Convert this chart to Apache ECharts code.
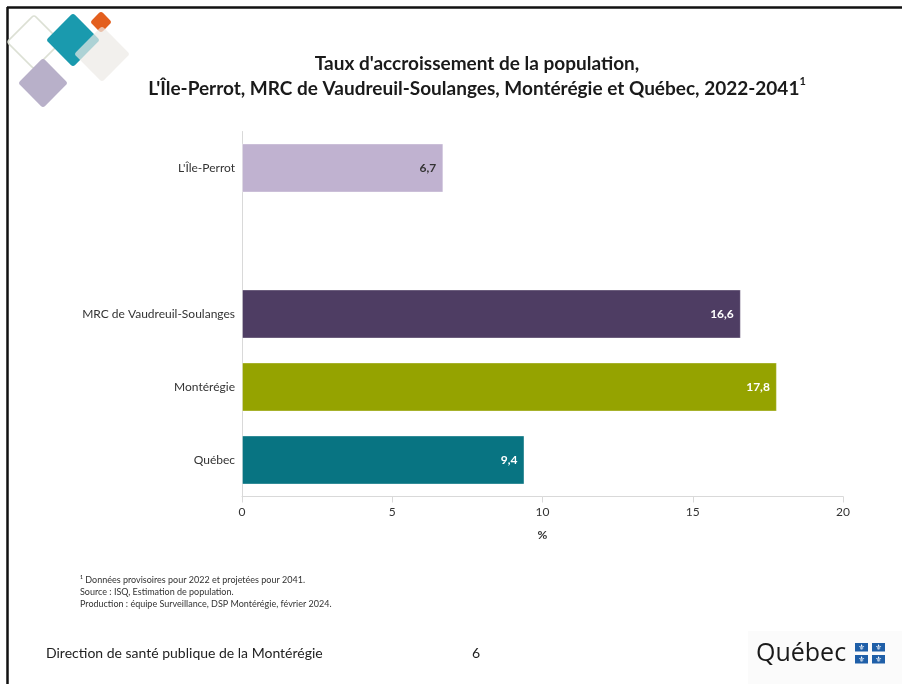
<!DOCTYPE html>
<html>
<head>
<meta charset="utf-8">
<script src="https://cdn.jsdelivr.net/npm/echarts@6/dist/echarts.min.js"></script>
<style>
html,body{margin:0;padding:0;background:#fff;}
#c{width:902px;height:684px;}
</style>
</head>
<body>
<div id="c"></div>
<script>
// ---- data ----
var categories = ["L'Île-Perrot", "", "MRC de Vaudreuil-Soulanges", "Montérégie", "Québec"];
var values = [6.7, null, 16.6, 17.8, 9.4];
var xTicks = [0, 5, 10, 15, 20];
var titleLine1 = "Taux d'accroissement de la population,";
var titleLine2 = "L'Île-Perrot, MRC de Vaudreuil-Soulanges, Montérégie et Québec, 2022-2041";
var notes = [
  "¹ Données provisoires pour 2022 et projetées pour 2041.",
  "Source : ISQ, Estimation de population.",
  "Production : équipe Surveillance, DSP Montérégie, février 2024."
];
var footerText = "Direction de santé publique de la Montérégie";
var pageNumber = "6";

// ---- styles ----
var barColors = ["#C0B2D0", "#C0B2D0", "#4E3D63", "#95A300", "#087482"];
var labelColors = ["#333333", "#333333", "#ffffff", "#ffffff", "#ffffff"];
var FONT = "Lato, 'Open Sans', sans-serif";

var chart = echarts.init(document.getElementById('c'), null, {renderer: 'canvas'});

function diamond(cx, cy, half, style, z) {
  var s = half * Math.SQRT2;
  return {
    type: 'rect', x: cx, y: cy, rotation: Math.PI / 4, z: z || 1,
    shape: {x: -s / 2, y: -s / 2, width: s, height: s, r: 3},
    style: style
  };
}

var graphics = [
  // slide frame
  {type: 'line', shape: {x1: 7, y1: 7.5, x2: 902, y2: 7.5}, style: {stroke: '#111', lineWidth: 2.5}},
  {type: 'line', shape: {x1: 7.5, y1: 7, x2: 7.5, y2: 684}, style: {stroke: '#111', lineWidth: 2.5}},
  // logo
  diamond(34, 42, 27, {fill: 'none', stroke: '#DCE0D4', lineWidth: 1.5}, 1),
  diamond(43, 83, 25, {fill: '#B8B0C9'}, 2),
  diamond(73, 40, 27, {fill: '#1A9AAE'}, 3),
  diamond(101, 22, 11, {fill: '#E35F1E'}, 3),
  diamond(102, 54, 28, {fill: 'rgba(236,233,229,0.7)'}, 4),
  // footnotes
  {type: 'text', x: 80, y: 580, style: {text: notes[0], font: "9px " + FONT, fill: '#333', textVerticalAlign: 'middle'}},
  {type: 'text', x: 80, y: 592, style: {text: notes[1], font: "9px " + FONT, fill: '#333', textVerticalAlign: 'middle'}},
  {type: 'text', x: 80, y: 604, style: {text: notes[2], font: "9px " + FONT, fill: '#333', textVerticalAlign: 'middle'}},
  // footer
  {type: 'text', x: 46, y: 653, style: {text: footerText, font: "14px " + FONT, fill: '#222', textVerticalAlign: 'middle'}},
  {type: 'text', x: 476, y: 653, style: {text: pageNumber, font: "14px " + FONT, fill: '#222', textVerticalAlign: 'middle', textAlign: 'center'}},
  // Québec logo
  {type: 'rect', shape: {x: 748, y: 631, width: 154, height: 53}, style: {fill: '#FBFBFB'}},
  {type: 'text', x: 756, y: 654, style: {text: 'Québec', font: "25px 'Open Sans', sans-serif", fill: '#1a1a1a', textVerticalAlign: 'middle'}, z: 5}
];
var flagPos = [[855, 643], [872, 643], [855, 655], [872, 655]];
flagPos.forEach(function (p) {
  graphics.push({type: 'rect', shape: {x: p[0], y: p[1], width: 13, height: 8.5}, style: {fill: '#1F5FA8'}, z: 5});
  graphics.push({type: 'text', x: p[0] + 6.5, y: p[1] + 4.5, style: {text: '⚜', font: "8px 'DejaVu Sans'", fill: '#fff', textAlign: 'center', textVerticalAlign: 'middle'}, z: 6});
});

var option = {
  animation: false,
  backgroundColor: '#ffffff',
  title: {
    left: 472, top: 46, textAlign: 'center',
    text: titleLine1 + '\n' + titleLine2 + '{sup|1}',
    textStyle: {
      fontFamily: FONT, fontWeight: 'bold', fontSize: 19, color: '#1a1a1a', lineHeight: 25,
      rich: {sup: {fontFamily: FONT, fontWeight: 'bold', fontSize: 11, color: '#1a1a1a', verticalAlign: 'top', lineHeight: 25, padding: [0, 0, 8, 0]}}
    }
  },
  grid: {left: 242, right: 59, top: 131.5, bottom: 187.5, containLabel: false},
  xAxis: {
    type: 'value', min: 0, max: 20, interval: 5,
    axisLine: {show: true, lineStyle: {color: '#D9D9D9', width: 1}},
    axisTick: {show: true, length: 6, lineStyle: {color: '#D9D9D9'}},
    splitLine: {show: false},
    axisLabel: {color: '#333', fontSize: 12, fontFamily: FONT, margin: 10,
      formatter: function (v) { return xTicks.indexOf(v) >= 0 ? String(v) : ''; }},
    name: '%', nameLocation: 'middle', nameGap: 33,
    nameTextStyle: {color: '#333', fontSize: 12, fontFamily: FONT, fontWeight: 'bold'}
  },
  yAxis: {
    type: 'category', inverse: true, data: categories,
    axisLine: {show: true, lineStyle: {color: '#D9D9D9', width: 1}},
    axisTick: {show: false},
    axisLabel: {color: '#333', fontSize: 12, fontFamily: FONT, margin: 7}
  },
  series: [{
    type: 'bar',
    barWidth: 49,
    data: values.map(function (v, i) {
      return {
        value: v,
        itemStyle: {color: barColors[i], borderColor: 'rgba(255,255,255,0.35)', borderWidth: 1},
        label: {color: labelColors[i]}
      };
    }),
    label: {
      show: true, position: 'insideRight', distance: 7,
      fontFamily: FONT, fontWeight: 'bold', fontSize: 12,
      formatter: function (p) { return p.value == null ? '' : p.value.toFixed(1).replace('.', ','); }
    }
  }],
  graphic: graphics
};
chart.setOption(option);
</script>
</body>
</html>
